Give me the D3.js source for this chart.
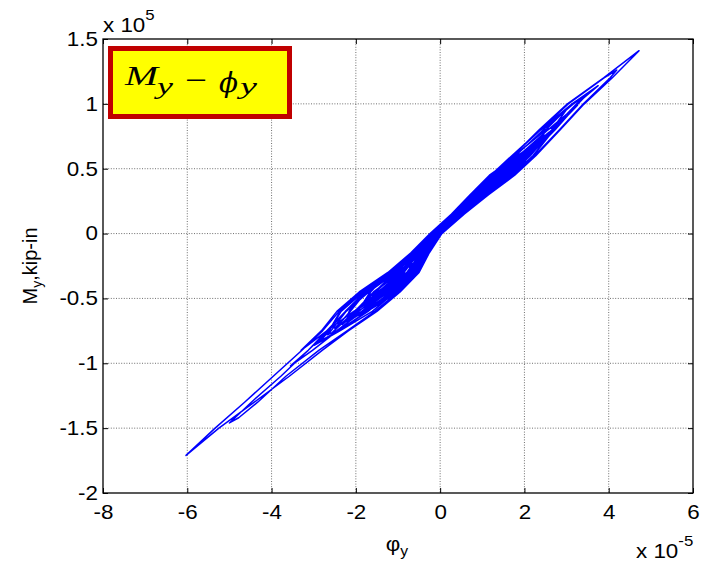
<!DOCTYPE html>
<html>
<head>
<meta charset="utf-8">
<script src="https://cdn.jsdelivr.net/npm/d3@7"></script>
<style>
  html, body { margin: 0; padding: 0; background: #fff; }
  svg { display: block; }
</style>
</head>
<body>
<svg id="chart" width="715" height="563"></svg>
<script>
// Axis ticks and their labels
const xTicks = [-8, -6, -4, -2, 0, 2, 4, 6];
const xTickLabels = ["-8", "-6", "-4", "-2", "0", "2", "4", "6"];
const yTicks = [-2, -1.5, -1, -0.5, 0, 0.5, 1, 1.5];
const yTickLabels = ["-2", "-1.5", "-1", "-0.5", "0", "0.5", "1", "1.5"];

// Moment-curvature response [phi_y (x1e-5), M_y (x1e5 kip-in)] in time order.
// Early cycles of growing amplitude
const growingCycles = [
  [0.00, 0.00], [0.44, 0.15], [0.59, 0.20],
  [0.39, 0.15], [-0.13, 0.00], [-0.45, -0.14],
  [-0.06, 0.00], [0.51, 0.15], [1.00, 0.32],
  [0.85, 0.30], [0.32, 0.15], [-0.20, 0.00], [-0.56, -0.15], [-0.73, -0.26],
  [-0.39, -0.15], [0.01, 0.00], [0.54, 0.15], [1.02, 0.30], [1.43, 0.44],
  [0.83, 0.30], [0.29, 0.15], [-0.23, 0.00], [-0.68, -0.15], [-1.01, -0.30], [-1.09, -0.37],
  [-0.66, -0.30], [-0.26, -0.15], [0.04, 0.00], [0.57, 0.15], [1.04, 0.30], [1.22, 0.38],
  [0.86, 0.30], [0.33, 0.15], [-0.18, 0.00], [-0.61, -0.15], [-1.07, -0.30], [-1.56, -0.45], [-1.58, -0.50],
  [-1.29, -0.45], [-0.66, -0.30], [-0.37, -0.15], [-0.03, 0.00], [0.50, 0.15], [1.04, 0.30], [1.55, 0.45], [1.97, 0.60],
  [1.41, 0.45], [0.84, 0.30], [0.36, 0.15], [-0.16, 0.00], [-0.57, -0.15], [-0.90, -0.30], [-1.01, -0.35],
  [-0.67, -0.30], [-0.28, -0.15], [0.03, 0.00], [0.56, 0.15], [1.13, 0.30], [1.61, 0.45], [1.70, 0.52],
  [1.32, 0.45], [0.71, 0.30], [0.27, 0.15], [-0.24, 0.00], [-0.70, -0.15], [-1.24, -0.30], [-1.66, -0.45], [-1.95, -0.60],
  [-1.24, -0.45], [-0.60, -0.30], [-0.33, -0.15], [0.00, 0.00], [0.53, 0.15], [1.08, 0.30], [1.68, 0.45], [2.08, 0.60], [2.16, 0.66],
  [1.90, 0.60], [1.32, 0.45], [0.82, 0.30], [0.35, 0.15], [-0.17, 0.00], [-0.59, -0.15], [-1.03, -0.30], [-1.53, -0.45], [-1.60, -0.48],
  [-1.33, -0.45], [-0.72, -0.30], [-0.41, -0.15], [-0.06, 0.00], [0.47, 0.15], [1.00, 0.30], [1.52, 0.45], [1.94, 0.59],
  [1.33, 0.45], [0.76, 0.30], [0.31, 0.15], [-0.20, 0.00], [-0.65, -0.15], [-1.00, -0.30], [-1.25, -0.40],
  [-0.79, -0.30], [-0.45, -0.15], [-0.08, 0.00], [0.44, 0.15], [0.96, 0.30], [1.49, 0.45], [1.80, 0.55],
  [1.35, 0.45], [0.75, 0.30], [0.30, 0.15], [-0.21, 0.00], [-0.66, -0.15], [-1.16, -0.30], [-1.82, -0.45], [-2.15, -0.60], [-2.21, -0.67],
  [-1.82, -0.60], [-1.13, -0.45], [-0.63, -0.30], [-0.35, -0.15], [-0.02, 0.00], [0.51, 0.15], [1.06, 0.30], [1.65, 0.45], [2.06, 0.60], [2.32, 0.71],
  [1.95, 0.60], [1.43, 0.45], [0.90, 0.30], [0.40, 0.15], [-0.12, 0.00], [-0.51, -0.15], [-0.88, -0.30], [-1.48, -0.45], [-1.99, -0.60], [-2.32, -0.70],
  [-1.93, -0.60], [-1.36, -0.45], [-0.79, -0.30], [-0.46, -0.15], [-0.09, 0.00], [0.44, 0.15], [0.95, 0.30], [1.50, 0.45], [1.99, 0.60], [2.22, 0.68],
  [1.83, 0.60], [1.19, 0.45], [0.72, 0.30], [0.28, 0.15], [-0.23, 0.00], [-0.69, -0.15], [-1.22, -0.30], [-1.65, -0.45], [-1.77, -0.55],
  [-1.18, -0.45], [-0.50, -0.30], [-0.26, -0.15], [0.04, 0.00], [0.57, 0.15], [1.15, 0.30], [1.77, 0.45], [2.15, 0.62],
  [1.89, 0.60], [1.31, 0.45], [0.81, 0.30], [0.34, 0.15], [-0.18, 0.00], [-0.60, -0.15], [-1.05, -0.30], [-1.69, -0.45], [-2.23, -0.60], [-2.59, -0.75], [-2.68, -0.78],
  [-2.46, -0.75], [-1.84, -0.60], [-1.29, -0.45], [-0.74, -0.30], [-0.43, -0.15], [-0.07, 0.00], [0.46, 0.15], [0.99, 0.30], [1.55, 0.45], [2.01, 0.60], [2.41, 0.74],
  [1.84, 0.60], [1.22, 0.45], [0.74, 0.30], [0.29, 0.15], [-0.22, 0.00], [-0.67, -0.15], [-1.18, -0.30], [-1.84, -0.45], [-2.16, -0.60], [-2.20, -0.64],
  [-1.78, -0.60], [-1.06, -0.45], [-0.58, -0.30], [-0.32, -0.15], [0.01, 0.00], [0.53, 0.15], [1.10, 0.30], [1.70, 0.45], [2.08, 0.60], [2.35, 0.70]
];

// Strong-motion cycles reaching the extreme peaks
const peakCycles = [
  [1.82, 0.60], [1.17, 0.45], [0.71, 0.30], [0.27, 0.15], [-0.24, 0.00], [-0.70, -0.15], [-1.24, -0.30], [-1.92, -0.45], [-2.45, -0.60], [-2.82, -0.75], [-3.30, -0.90],
  [-2.69, -0.75], [-2.05, -0.60], [-1.31, -0.45], [-0.63, -0.30], [-0.30, -0.15], [0.01, 0.00], [0.54, 0.15], [1.11, 0.30], [1.68, 0.45], [2.12, 0.60], [2.65, 0.80], [3.03, 0.97],
  [2.51, 0.80], [1.76, 0.60], [1.26, 0.45], [0.78, 0.30], [0.32, 0.15], [-0.20, 0.00], [-0.63, -0.15], [-1.11, -0.30], [-1.76, -0.45], [-2.13, -0.60], [-2.50, -0.73],
  [-1.86, -0.60], [-1.22, -0.45], [-0.69, -0.30], [-0.39, -0.15], [-0.04, 0.00], [0.48, 0.15], [1.02, 0.30], [1.59, 0.45], [2.03, 0.60], [2.47, 0.76],
  [1.92, 0.60], [1.37, 0.45], [0.85, 0.30], [0.37, 0.15], [-0.15, 0.00], [-0.56, -0.15], [-0.97, -0.30], [-1.58, -0.45], [-2.08, -0.62],
  [-1.77, -0.60], [-1.04, -0.45], [-0.56, -0.30], [-0.30, -0.15], [0.01, 0.00], [0.54, 0.15], [1.11, 0.30], [1.71, 0.45], [2.21, 0.60], [2.70, 0.80], [2.78, 0.83],
  [2.50, 0.80], [1.75, 0.60], [1.25, 0.45], [0.77, 0.30], [0.31, 0.15], [-0.21, 0.00], [-0.65, -0.15], [-1.14, -0.30], [-1.79, -0.45], [-2.25, -0.60], [-2.66, -0.75], [-3.13, -0.90], [-3.78, -1.10], [-4.48, -1.30], [-5.00, -1.46],
  [-4.78, -1.42], [-4.33, -1.30], [-3.66, -1.10], [-2.88, -0.90], [-2.21, -0.75], [-1.55, -0.60], [-0.99, -0.45], [-0.53, -0.30], [-0.28, -0.15], [0.03, 0.00], [0.56, 0.15], [1.13, 0.30], [1.74, 0.45], [2.24, 0.60], [2.83, 0.80], [3.40, 1.00], [4.03, 1.20], [4.19, 1.26],
  [3.89, 1.20], [3.04, 1.00], [2.38, 0.80], [1.70, 0.60], [1.20, 0.45], [0.73, 0.30], [0.29, 0.15], [-0.23, 0.00], [-0.68, -0.15], [-1.20, -0.30], [-1.87, -0.45], [-2.40, -0.60], [-2.79, -0.75], [-3.28, -0.90], [-3.96, -1.10], [-4.64, -1.30], [-5.34, -1.50], [-6.03, -1.71],
  [-5.25, -1.50], [-4.41, -1.30], [-3.58, -1.10], [-2.80, -0.90], [-2.18, -0.75], [-1.50, -0.60], [-0.95, -0.45], [-0.50, -0.30], [-0.26, -0.15], [0.04, 0.00], [0.57, 0.15], [1.15, 0.30], [1.77, 0.45], [2.27, 0.60], [2.85, 0.80], [3.42, 1.00], [4.08, 1.20], [4.72, 1.41]
];

// Decaying cycles after the main pulse
const decayCycles = [
  [3.88, 1.20], [3.02, 1.00], [2.35, 0.80], [1.73, 0.60], [1.23, 0.45], [0.75, 0.30], [0.30, 0.15], [-0.21, 0.00], [-0.66, -0.15], [-1.16, -0.30], [-1.82, -0.45], [-2.35, -0.60], [-2.63, -0.75], [-2.85, -0.83],
  [-2.42, -0.75], [-1.73, -0.60], [-1.18, -0.45], [-0.66, -0.30], [-0.37, -0.15], [-0.03, 0.00], [0.50, 0.15], [1.04, 0.30], [1.62, 0.45], [2.12, 0.60], [2.73, 0.80], [3.27, 1.00], [3.45, 1.06],
  [3.16, 1.00], [2.45, 0.80], [1.79, 0.60], [1.29, 0.45], [0.80, 0.30], [0.33, 0.15], [-0.18, 0.00], [-0.61, -0.15], [-1.07, -0.30], [-1.71, -0.45], [-2.25, -0.60], [-2.69, -0.75], [-3.13, -0.90], [-3.55, -1.02],
  [-3.03, -0.90], [-2.44, -0.75], [-1.86, -0.60], [-1.31, -0.45], [-0.76, -0.30], [-0.44, -0.15], [-0.07, 0.00], [0.45, 0.15], [0.97, 0.30], [1.53, 0.45], [2.03, 0.60], [2.65, 0.80], [3.24, 1.00], [3.75, 1.14],
  [3.13, 1.00], [2.39, 0.80], [1.72, 0.60], [1.21, 0.45], [0.74, 0.30], [0.28, 0.15], [-0.22, 0.00], [-0.67, -0.15], [-1.19, -0.30], [-1.85, -0.45], [-2.37, -0.60], [-2.64, -0.75], [-2.98, -0.86],
  [-2.38, -0.75], [-1.61, -0.60], [-1.06, -0.45], [-0.58, -0.30], [-0.32, -0.15], [0.01, 0.00], [0.53, 0.15], [1.10, 0.30], [1.70, 0.45], [2.20, 0.60], [2.70, 0.80], [3.26, 0.99],
  [2.56, 0.80], [1.86, 0.60], [1.36, 0.45], [0.87, 0.30], [0.37, 0.15], [-0.15, 0.00], [-0.56, -0.15], [-0.97, -0.30], [-1.58, -0.45], [-2.03, -0.60], [-2.55, -0.76],
  [-2.41, -0.75], [-1.71, -0.60], [-1.15, -0.45], [-0.64, -0.30], [-0.36, -0.15], [-0.02, 0.00], [0.50, 0.15], [1.05, 0.30], [1.64, 0.45], [2.14, 0.60], [2.67, 0.80], [2.79, 0.86],
  [2.56, 0.80], [1.88, 0.60], [1.38, 0.45], [0.86, 0.30], [0.38, 0.15], [-0.14, 0.00], [-0.55, -0.15], [-0.95, -0.30], [-1.56, -0.45], [-2.03, -0.60], [-2.28, -0.68],
  [-1.73, -0.60], [-0.98, -0.45], [-0.52, -0.30], [-0.27, -0.15], [0.03, 0.00], [0.56, 0.15], [1.14, 0.30], [1.76, 0.45], [2.11, 0.60], [2.40, 0.72],
  [1.96, 0.60], [1.44, 0.45], [0.91, 0.30], [0.41, 0.15], [-0.11, 0.00], [-0.50, -0.15], [-0.86, -0.30], [-1.43, -0.45], [-1.66, -0.52],
  [-1.32, -0.45], [-0.71, -0.30], [-0.40, -0.15], [-0.05, 0.00], [0.47, 0.15], [1.01, 0.30], [1.52, 0.45], [1.95, 0.58],
  [1.36, 0.45], [0.77, 0.30], [0.31, 0.15], [-0.21, 0.00], [-0.65, -0.15], [-1.14, -0.30], [-1.79, -0.45], [-2.14, -0.60], [-2.45, -0.72],
  [-1.80, -0.60], [-1.11, -0.45], [-0.61, -0.30], [-0.34, -0.15], [-0.01, 0.00], [0.52, 0.15], [1.07, 0.30], [1.67, 0.45], [2.07, 0.60], [2.58, 0.78],
  [1.93, 0.60], [1.40, 0.45], [0.88, 0.30], [0.38, 0.15], [-0.14, 0.00], [-0.54, -0.15], [-0.93, -0.30], [-1.47, -0.45], [-1.72, -0.53],
  [-1.30, -0.45], [-0.68, -0.30], [-0.38, -0.15], [-0.04, 0.00], [0.49, 0.15], [1.03, 0.30], [1.61, 0.45], [2.04, 0.60], [2.28, 0.69],
  [1.88, 0.60], [1.29, 0.45], [0.80, 0.30], [0.33, 0.15], [-0.18, 0.00], [-0.61, -0.15], [-1.07, -0.30], [-1.56, -0.45], [-1.88, -0.57],
  [-1.36, -0.45], [-0.76, -0.30], [-0.44, -0.15], [-0.07, 0.00], [0.45, 0.15], [0.97, 0.30], [1.53, 0.45], [2.00, 0.60], [2.10, 0.64],
  [1.94, 0.60], [1.41, 0.45], [0.89, 0.30], [0.39, 0.15], [-0.13, 0.00], [-0.52, -0.15], [-0.86, -0.30], [-1.32, -0.43],
  [-0.68, -0.30], [-0.29, -0.15], [0.02, 0.00], [0.55, 0.15], [1.12, 0.30], [1.60, 0.45], [1.84, 0.56],
  [1.45, 0.45], [0.90, 0.30], [0.40, 0.15], [-0.12, 0.00], [-0.51, -0.15], [-0.88, -0.30], [-1.44, -0.45], [-1.50, -0.47],
  [-0.71, -0.30], [-0.34, -0.15], [-0.01, 0.00], [0.52, 0.15], [1.07, 0.30], [1.57, 0.45], [1.62, 0.48],
  [1.40, 0.45], [0.83, 0.30], [0.35, 0.15], [-0.16, 0.00], [-0.58, -0.15], [-0.92, -0.30], [-0.98, -0.32],
  [-0.74, -0.30], [-0.37, -0.15], [-0.03, 0.00], [0.50, 0.15], [0.99, 0.30], [1.10, 0.34],
  [0.88, 0.30], [0.35, 0.15], [-0.17, 0.00], [-0.54, -0.15], [-0.64, -0.21],
  [-0.44, -0.15], [-0.04, 0.00], [0.45, 0.15], [0.73, 0.24],
  [0.39, 0.15], [-0.13, 0.00], [-0.38, -0.11],
  [-0.07, 0.00], [0.28, 0.11],
  [-0.15, -0.02]
];

const responsePath = growingCycles.concat(peakCycles, decayCycles);

const svg = d3.select("#chart");
const plotLeft = 103, plotRight = 693, plotTop = 39, plotBottom = 493;
const x = d3.scaleLinear().domain([-8, 6]).range([plotLeft, plotRight]);
const y = d3.scaleLinear().domain([-2, 1.5]).range([plotBottom, plotTop]);
const sansFont = "'Liberation Sans', Arial, sans-serif";
const stretch = "scale(1.12,1)";

// dotted grid
const grid = svg.append("g").attr("stroke", "#4a4a4a").attr("stroke-width", 0.8)
  .attr("stroke-dasharray", "1,1.6");
grid.selectAll("line.gx").data(xTicks.filter(d => d > -8 && d < 6)).join("line")
  .attr("class", "gx")
  .attr("x1", d => x(d)).attr("x2", d => x(d)).attr("y1", plotTop).attr("y2", plotBottom);
grid.selectAll("line.gy").data(yTicks.filter(d => d > -2 && d < 1.5)).join("line")
  .attr("class", "gy")
  .attr("x1", plotLeft).attr("x2", plotRight).attr("y1", d => y(d)).attr("y2", d => y(d));

// hysteresis curve
const line = d3.line().x(d => x(d[0])).y(d => y(d[1]));
svg.append("path").datum(responsePath)
  .attr("d", line).attr("fill", "none")
  .attr("stroke", "#0000ff").attr("stroke-width", 1.5)
  .attr("stroke-linejoin", "round");

// axes with inward ticks
const xAxis = svg.append("g").attr("transform", `translate(0,${plotBottom})`)
  .call(d3.axisBottom(x).tickValues(xTicks).tickFormat((d, i) => xTickLabels[i])
    .tickSizeInner(-5).tickSizeOuter(0).tickPadding(12));
const yAxis = svg.append("g").attr("transform", `translate(${plotLeft},0)`)
  .call(d3.axisLeft(y).tickValues(yTicks).tickFormat((d, i) => yTickLabels[i])
    .tickSizeInner(-5).tickSizeOuter(0).tickPadding(4.5));
svg.append("g").attr("transform", `translate(0,${plotTop})`)
  .call(d3.axisTop(x).tickValues(xTicks).tickFormat("").tickSizeInner(-5).tickSizeOuter(0));
svg.append("g").attr("transform", `translate(${plotRight},0)`)
  .call(d3.axisRight(y).tickValues(yTicks).tickFormat("").tickSizeInner(-5).tickSizeOuter(0));

svg.selectAll(".domain").remove();
svg.selectAll(".tick line").attr("stroke", "#000").attr("stroke-width", 1);
[xAxis, yAxis].forEach(g => g.selectAll("text")
  .attr("font-family", sansFont).attr("font-size", 20).attr("fill", "#000")
  .attr("transform", stretch));

svg.append("rect").attr("x", plotLeft).attr("y", plotTop)
  .attr("width", plotRight - plotLeft).attr("height", plotBottom - plotTop)
  .attr("fill", "none").attr("stroke", "#000").attr("stroke-width", 1.3);

// exponent labels
const expTop = svg.append("text").attr("font-family", sansFont).attr("font-size", 20)
  .attr("transform", `translate(103,32) ${stretch}`);
expTop.append("tspan").text("x 10");
expTop.append("tspan").attr("dy", -12).attr("font-size", 15).text("5");

const expBottom = svg.append("text").attr("font-family", sansFont).attr("font-size", 20)
  .attr("transform", `translate(636,558) ${stretch}`);
expBottom.append("tspan").text("x 10");
expBottom.append("tspan").attr("dy", -12).attr("font-size", 15).text("-5");

// axis titles
const xTitle = svg.append("text").attr("font-family", sansFont).attr("font-size", 20)
  .attr("text-anchor", "middle").attr("transform", `translate(397,551) ${stretch}`);
xTitle.append("tspan").text("\u03c6");
xTitle.append("tspan").attr("dy", 5).attr("font-size", 14).text("y");

const yTitle = svg.append("text").attr("font-family", sansFont).attr("font-size", 20)
  .attr("text-anchor", "middle").attr("transform", "translate(36.5,266) rotate(-90)");
yTitle.append("tspan").text("M");
yTitle.append("tspan").attr("dy", 5).attr("font-size", 14).text("y");
yTitle.append("tspan").attr("dy", -5).text(",kip-in");

// title box
svg.append("rect").attr("x", 110.5).attr("y", 48.5).attr("width", 179).attr("height", 68)
  .attr("fill", "#ffff00").attr("stroke", "#c00000").attr("stroke-width", 5);
const boxText = [
  { t: "M", x: 125, y: 85, size: 27, italic: true, w: 33, font: "'Liberation Serif', serif" },
  { t: "y", x: 157, y: 94, size: 23, italic: true, w: 16, font: "'Liberation Serif', serif" },
  { t: "\u2212", x: 185, y: 89, size: 27, italic: false, w: 22, font: "'Liberation Serif', serif" },
  { t: "\u03d5", x: 219, y: 92, size: 28, italic: true, w: 19, font: "'DejaVu Serif', serif" },
  { t: "y", x: 240, y: 94, size: 23, italic: true, w: 17, font: "'Liberation Serif', serif" }
];
svg.selectAll("text.boxlabel").data(boxText).join("text")
  .attr("class", "boxlabel")
  .attr("x", d => d.x).attr("y", d => d.y)
  .attr("font-family", d => d.font).attr("font-size", d => d.size)
  .attr("font-style", d => d.italic ? "italic" : "normal")
  .attr("textLength", d => d.w).attr("lengthAdjust", "spacingAndGlyphs")
  .attr("fill", "#000").text(d => d.t);
</script>
</body>
</html>
